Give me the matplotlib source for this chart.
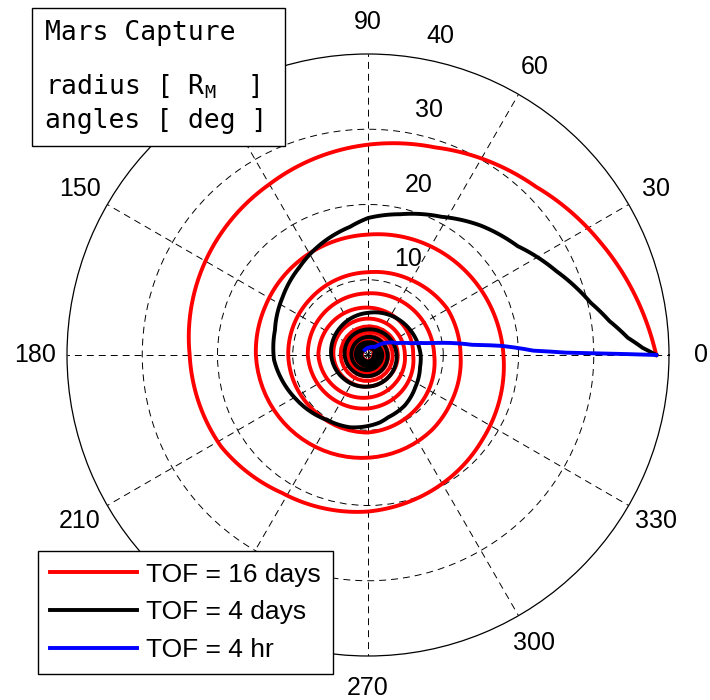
import numpy as np
import matplotlib
matplotlib.use("Agg")
import matplotlib.pyplot as plt
from matplotlib.patches import Rectangle
from matplotlib.transforms import offset_copy

plt.rcParams['font.family'] = ['Liberation Sans', 'DejaVu Sans']
plt.rcParams['lines.scale_dashes'] = False

W, H = 710, 700

# ---- data (theta in deg, r in Mars radii) ----
# 16 days: first turn sampled densely, later turns as (angle within turn, r)
red_turn1_deg = [0, 8, 16, 26, 35, 45, 59, 72, 90, 120, 135, 150, 180, 212, 238, 270, 298, 324, 345, 360]
red_turn1_r = [38.3, 36.7, 35.4, 34.3, 32.9, 31.6, 30.2, 29.0, 27.9, 26.2, 25.6, 25.0, 23.7, 23.0, 21.6, 20.8, 19.7, 18.9, 18.3, 18.0]
red_turn2_deg = [15, 30, 50, 66, 90, 110, 130, 155, 180, 210, 240, 270, 290, 310, 330, 360]
red_turn2_r = [17.7, 17.3, 16.9, 16.5, 16.0, 15.7, 15.4, 15.1, 14.9, 14.5, 14.2, 13.7, 13.4, 13.1, 12.7, 12.3]
red_turn3_deg = [30, 60, 90, 135, 180, 225, 270, 315, 360]
red_turn3_r = [12.2, 11.5, 11.0, 10.7, 10.6, 10.3, 10.3, 9.6, 8.8]
inner_deg = [45, 90, 135, 180, 225, 270, 315, 360]
red_inner_r = [
    [8.5, 8.2, 8.1, 8.0, 7.6, 7.1, 6.6, 6.0],
    [6.1, 6.3, 6.5, 6.6, 6.1, 5.6, 5.2, 4.9],
    [4.9, 4.9, 4.8, 4.6, 4.3, 4.1, 4.0, 4.0],
    [3.9, 3.8, 3.8, 3.7, 3.5, 3.3, 3.3, 3.3],
    [3.2, 3.1, 3.1, 3.0, 2.9, 2.8, 2.7, 2.7],
    [2.6, 2.6, 2.5, 2.5, 2.4, 2.3, 2.2, 2.2],
    [2.2, 2.1, 2.1, 2.0, 1.9, 1.9, 1.8, 1.8],
    [1.8, 1.7, 1.7, 1.6, 1.6, 1.5, 1.5, 1.4],
    [1.4, 1.4, 1.3, 1.3, 1.2, 1.2, 1.2, 1.1],
    [1.1, 1.1, 1.0, 1.0, 1.0, 0.9, 0.9, 0.9],
    [0.9, 0.85, 0.8, 0.8, 0.8, 0.75, 0.75, 0.7],
]

# 4 days
black_turn1_deg = [0, 1.5, 3.8, 8, 13.2, 24, 36, 49, 62, 77, 90, 98, 112, 128, 146, 165, 183, 212, 238, 256, 280, 288, 306, 326, 347, 360]
black_turn1_r = [38.3, 36.5, 34.6, 32.4, 30.4, 27.4, 24.6, 22.8, 20.8, 19.2, 18.2, 17.2, 16.1, 14.8, 13.7, 12.8, 12.5, 11.2, 10.2, 9.9, 9.1, 8.7, 8.3, 7.6, 7.1, 7.0]
black_inner_r = [
    [6.3, 5.6, 5.2, 4.9, 4.5, 4.2, 4.0, 3.8],
    [3.6, 3.4, 3.3, 3.1, 2.9, 2.8, 2.7, 2.6],
    [2.5, 2.4, 2.3, 2.2, 2.1, 2.0, 1.9, 1.9],
    [1.8, 1.7, 1.7, 1.6, 1.5, 1.5, 1.4, 1.4],
    [1.3, 1.3, 1.2, 1.2, 1.1, 1.1, 1.0, 1.0],
    [1.0, 0.95, 0.9, 0.9, 0.85, 0.85, 0.8, 0.8],
]

# 4 hr
blue_deg = [0, 0.6, 1.5, 3.9, 5.5, 8.2, 11, 15, 22, 35, 49, 80, 121]
blue_r = [38.3, 26.7, 22.0, 17.8, 14.0, 11.2, 8.2, 6.0, 4.2, 2.8, 1.4, 1.0, 0.8]

series_labels = ['TOF = 16 days', 'TOF = 4 days', 'TOF = 4 hr']
series_colors = ['#ff0000', '#000000', '#0000ff']
ring_values = [10, 20, 30, 40]
spoke_values = list(range(0, 360, 30))
# 120 and 240 sit under the info box and the legend in the reference
shown_angle_labels = [0, 30, 60, 90, 150, 180, 210, 270, 300, 330]
box_lines = ['Mars Capture', r'radius [ R$_{\mathregular{M}}$  ]', 'angles [ deg ]']


def unwrap(turns):
    th, rr = [], []
    for k, (d, r) in enumerate(turns):
        th += [k * 360 + a for a in d]
        rr += list(r)
    return np.deg2rad(th), np.array(rr)


red_t, red_rr = unwrap([(red_turn1_deg, red_turn1_r), (red_turn2_deg, red_turn2_r),
                        (red_turn3_deg, red_turn3_r)] + [(inner_deg, r) for r in red_inner_r])
black_t, black_rr = unwrap([(black_turn1_deg, black_turn1_r)] + [(inner_deg, r) for r in black_inner_r])
blue_t, blue_rr = np.deg2rad(blue_deg), np.array(blue_r)

fig = plt.figure(figsize=(W / 100, H / 100), dpi=100)
ax = fig.add_axes([67 / W, 44 / H, 602 / W, 602 / H], projection='polar')
ax.set_ylim(0, 40)
ax.set_rticks(ring_values[:-1])
ax.set_thetagrids(spoke_values)
ax.set_xticklabels([])
ax.set_yticklabels([])
ax.tick_params(length=0)
ax.grid(True, color='k', lw=0.7, ls=(0, (5, 3.6)))
ax.spines['polar'].set_color('k')
ax.spines['polar'].set_linewidth(0.9)

for t, r, c, lab in zip([red_t, black_t, blue_t], [red_rr, black_rr, blue_rr], series_colors, series_labels):
    ln, = ax.plot(t, r, color=c, lw=2.8, label=lab, solid_joinstyle='round')
    # let the polar transform draw segments as spiral arcs, not chords
    ln.get_path()._interpolation_steps = 30

# angle labels
for a in shown_angle_labels:
    ax.text(np.deg2rad(a), 44.2, str(a), ha='center', va='center', fontsize=18)

# radius labels
tr = offset_copy(ax.transData, fig=fig, x=30, y=21, units='dots')
for v in ring_values:
    ax.text(np.deg2rad(82), v, str(v), transform=tr, ha='center', va='center', fontsize=18)

# info box
fig.patches.append(Rectangle((32 / W, 1 - 146 / H), 253 / W, 138 / H, transform=fig.transFigure,
                             facecolor='white', edgecolor='k', lw=1.0, zorder=5))
for s, yb in zip(box_lines, [40, 93, 128]):
    fig.text(45 / W, 1 - yb / H, s, family='DejaVu Sans Mono', fontsize=19, va='baseline', zorder=6)

leg = ax.legend(loc='lower left', bbox_to_anchor=(38 / W, 26 / H), bbox_transform=fig.transFigure,
                borderaxespad=0, fontsize=19, handlelength=3.3, handletextpad=0.35,
                borderpad=0.45, labelspacing=0.52, fancybox=False, framealpha=1)
leg.get_frame().set_edgecolor('k')
leg.get_frame().set_linewidth(1.0)

fig.savefig('out.png', dpi=100)
